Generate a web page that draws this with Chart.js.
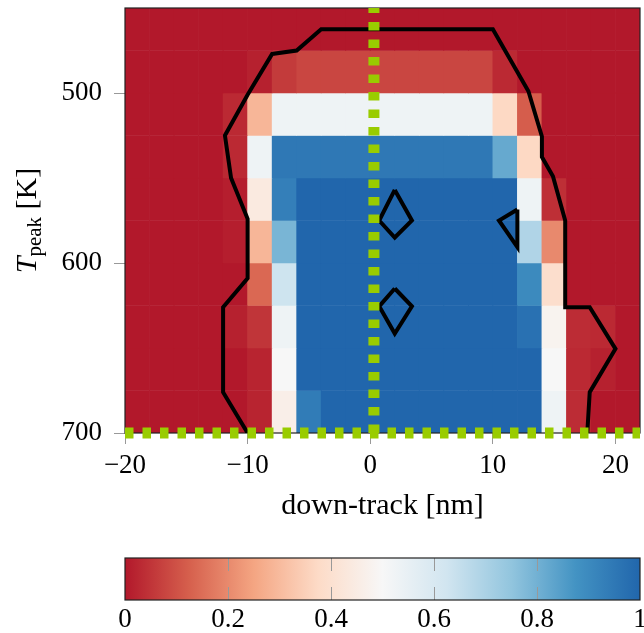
<!DOCTYPE html>
<html>
<head>
<meta charset="utf-8">
<script src="https://cdn.jsdelivr.net/npm/chart.js@4.4.1/dist/chart.umd.min.js"></script>
<style>
  html, body { margin: 0; padding: 0; background: #fff; }
  canvas { display: block; }
</style>
</head>
<body>
<canvas id="mapChart" width="644" height="540"></canvas>
<canvas id="barChart" width="644" height="93"></canvas>
<script>
// Axis ticks
const xTicks = [-20, -10, 0, 10, 20];
const yTicks = [500, 600, 700];
const cbTicks = [0, 0.2, 0.4, 0.6, 0.8, 1];

// Heatmap grid: column left edges (nm), row top edges (K)
const colStarts = [-20, -18, -16, -14, -12, -10, -8, -6, -4, -2, 0, 2, 4, 6, 8, 10, 12, 14, 16, 18, 20];
const rowStarts = [450, 475, 500, 525, 550, 575, 600, 625, 650, 675];
const CELL_W = 2;
const CELL_H = 25;

// Cell values per row (0..1), one per column
const row450 = [0, 0, 0, 0, 0, 0, 0, 0, 0, 0, 0, 0, 0, 0, 0, 0, 0, 0, 0, 0, 0];
const row475 = [0, 0, 0, 0, 0, 0.015, 0.06, 0.08, 0.08, 0.08, 0.08, 0.08, 0.08, 0.08, 0.08, 0.03, 0, 0, 0, 0, 0];
const row500 = [0, 0, 0, 0, 0.03, 0.29, 0.53, 0.53, 0.53, 0.53, 0.53, 0.53, 0.53, 0.53, 0.53, 0.37, 0.12, 0, 0, 0, 0];
const row525 = [0, 0, 0, 0, 0.03, 0.53, 0.95, 0.95, 0.95, 0.95, 0.95, 0.95, 0.95, 0.95, 0.95, 0.82, 0.37, 0, 0, 0, 0];
const row550 = [0, 0, 0, 0, 0.01, 0.44, 0.93, 1, 1, 1, 1, 1, 1, 1, 1, 1, 0.53, 0.04, 0, 0, 0];
const row575 = [0, 0, 0, 0, 0.01, 0.29, 0.79, 1, 1, 1, 1, 1, 1, 1, 1, 1, 0.69, 0.2, 0, 0, 0];
const row600 = [0, 0, 0, 0, 0, 0.14, 0.63, 1, 1, 1, 1, 1, 1, 1, 1, 1, 0.9, 0.39, 0, 0, 0];
const row625 = [0, 0, 0, 0, 0.015, 0.05, 0.53, 1, 1, 1, 1, 1, 1, 1, 1, 1, 0.97, 0.48, 0.035, 0.03, 0];
const row650 = [0, 0, 0, 0, 0, 0.02, 0.5, 1, 1, 1, 1, 1, 1, 1, 1, 1, 1, 0.5, 0.03, 0.015, 0];
const row675 = [0, 0, 0, 0, 0, 0.02, 0.46, 0.94, 1, 1, 1, 1, 1, 1, 1, 1, 1, 0.53, 0.035, 0, 0];
const cellRows = [row450, row475, row500, row525, row550, row575, row600, row625, row650, row675];

// Black contour lines (x in nm, y in K)
const outerX = [-10, -12, -12, -10, -10, -11.35, -11.85, -10, -8, -6, -4, 10, 12.9, 14, 14, 14.9, 15.9, 15.9, 17.9, 20, 17.9, 17.7];
const outerY = [700, 676, 626, 609, 574, 550, 525, 501, 477, 475, 462.5, 462.5, 499, 525.6, 537.6, 549, 575, 626, 626, 650.5, 676, 700];
const diamondAX = [2, 3.4, 2, 0.73, 2];
const diamondAY = [557, 575, 585, 575, 557];
const diamondBX = [2, 3.4, 2, 0.73, 2];
const diamondBY = [615, 625.5, 641.5, 625.5, 615];
const wedgeX = [12, 10.5, 12, 12];
const wedgeY = [568.5, 575, 590.7, 568.5];

// Green dotted guide lines
const guideVX = [0.3, 0.3];
const guideVY = [700, 450];
const guideHX = [-20, 22];
const guideHY = [700, 700];

// RdBu colour map
const RDBU = ['#b2182b', '#d6604d', '#f4a582', '#fddbc7', '#f7f7f7', '#d1e5f0', '#92c5de', '#4393c3', '#2166ac'];
const GREEN = '#99cc00';
const SERIF = '"Liberation Serif", "Times New Roman", serif';
const FONT = { family: SERIF, size: 27 };
const TITLE_FONT = { family: SERIF, size: 30 };

function hexToRgb(h) {
    return [parseInt(h.slice(1, 3), 16), parseInt(h.slice(3, 5), 16), parseInt(h.slice(5, 7), 16)];
}

function cmap(v) {
    const t = Math.min(Math.max(v, 0), 1) * (RDBU.length - 1);
    const i = Math.min(Math.floor(t), RDBU.length - 2);
    const f = t - i;
    const a = hexToRgb(RDBU[i]);
    const b = hexToRgb(RDBU[i + 1]);
    const c = a.map((ch, k) => Math.round(ch + (b[k] - ch) * f));
    return `rgb(${c[0]},${c[1]},${c[2]})`;
}

const fmt = v => String(v).replace('-', '\u2212');
const pts = (xs, ys) => xs.map((x, i) => ({ x: x, y: ys[i] }));

function contour(xs, ys) {
    return {
        type: 'line',
        data: pts(xs, ys),
        borderColor: '#000',
        borderWidth: 4,
        borderJoinStyle: 'miter',
        pointRadius: 0,
        fill: false,
        tension: 0,
        order: 2
    };
}

function guide(xs, ys, clip) {
    return {
        type: 'line',
        data: pts(xs, ys),
        borderColor: GREEN,
        borderWidth: 11,
        borderDash: [8.5, 9],
        borderCapStyle: 'butt',
        pointRadius: 0,
        fill: false,
        clip: clip,
        order: 1
    };
}

// one floating-bar dataset per temperature row
const heatSets = cellRows.map((vals, r) => ({
    type: 'bar',
    data: colStarts.map(x0 => ({ x: x0 + CELL_W / 2, y: [rowStarts[r], rowStarts[r] + CELL_H] })),
    backgroundColor: vals.map(cmap),
    borderWidth: 0,
    grouped: false,
    barPercentage: 1,
    categoryPercentage: 1,
    order: 3
}));

// frame around the plot, drawn right after the heatmap
const framePlugin = {
    id: 'frame',
    afterDatasetDraw(chart, args) {
        if (args.index !== 0) return;
        const { ctx, chartArea: a } = chart;
        ctx.save();
        ctx.strokeStyle = '#222';
        ctx.lineWidth = 1.2;
        ctx.strokeRect(a.left, a.top, a.right - a.left, a.bottom - a.top);
        ctx.restore();
    }
};

// y title with subscript: T_peak [K]
const yTitlePlugin = {
    id: 'yTitle',
    afterDraw(chart) {
        const { ctx, chartArea: a } = chart;
        const parts = [
            { text: 'T', font: `italic 30px ${SERIF}`, dy: 0 },
            { text: 'peak', font: `21px ${SERIF}`, dy: 5 },
            { text: ' [K]', font: `30px ${SERIF}`, dy: 0 }
        ];
        ctx.save();
        let total = 0;
        parts.forEach(p => { ctx.font = p.font; p.w = ctx.measureText(p.text).width; total += p.w; });
        ctx.translate(36, (a.top + a.bottom) / 2);
        ctx.rotate(-Math.PI / 2);
        ctx.fillStyle = '#000';
        ctx.textBaseline = 'alphabetic';
        let u = -total / 2;
        parts.forEach(p => {
            ctx.font = p.font;
            ctx.fillText(p.text, u, p.dy);
            u += p.w;
        });
        ctx.restore();
    }
};

new Chart(document.getElementById('mapChart'), {
    type: 'bar',
    data: {
        datasets: [
            ...heatSets,
            contour(outerX, outerY),
            contour(diamondAX, diamondAY),
            contour(diamondBX, diamondBY),
            contour(wedgeX, wedgeY),
            guide(guideVX, guideVY, 0),
            guide(guideHX, guideHY, false)
        ]
    },
    options: {
        responsive: false,
        animation: false,
        layout: { padding: { top: 8, right: 4, left: 0, bottom: 0 } },
        plugins: { legend: { display: false }, tooltip: { enabled: false } },
        scales: {
            x: {
                type: 'linear',
                min: -20,
                max: 22,
                offset: false,
                grid: { drawOnChartArea: false, tickLength: 11, tickColor: '#999', offset: false },
                border: { display: false },
                afterBuildTicks: s => { s.ticks = xTicks.map(v => ({ value: v })); },
                afterFit: s => { s.height = 107; s.paddingLeft = 0; s.paddingRight = 0; },
                ticks: { font: FONT, color: '#000', padding: 6, maxRotation: 0, autoSkip: false, callback: v => fmt(v) },
                title: { display: true, text: 'down-track [nm]', font: TITLE_FONT, color: '#000', padding: { top: 0, bottom: 16 } }
            },
            y: {
                type: 'linear',
                reverse: true,
                min: 450,
                max: 700,
                grid: { drawOnChartArea: false, tickLength: 11, tickColor: '#999' },
                border: { display: false },
                afterBuildTicks: s => { s.ticks = yTicks.map(v => ({ value: v })); },
                afterFit: s => { s.width = 125; s.paddingTop = 0; s.paddingBottom = 0; },
                ticks: { font: FONT, color: '#000', padding: 12, callback: v => fmt(v) }
            }
        }
    },
    plugins: [framePlugin, yTitlePlugin]
});

// colour bar: gradient from the same map, with inner tick marks
const colorBarPlugin = {
    id: 'colorBar',
    afterDraw(chart) {
        const { ctx, chartArea: a, scales } = chart;
        const grad = ctx.createLinearGradient(a.left, 0, a.right, 0);
        RDBU.forEach((c, i) => grad.addColorStop(i / (RDBU.length - 1), c));
        ctx.save();
        ctx.fillStyle = grad;
        ctx.fillRect(a.left, a.top, a.right - a.left, a.bottom - a.top);
        ctx.strokeStyle = '#999';
        ctx.lineWidth = 1;
        cbTicks.slice(1, -1).forEach(v => {
            const px = Math.round(scales.x.getPixelForValue(v)) + 0.5;
            ctx.beginPath();
            ctx.moveTo(px, a.top); ctx.lineTo(px, a.top + 13);
            ctx.moveTo(px, a.bottom - 13); ctx.lineTo(px, a.bottom);
            ctx.stroke();
        });
        ctx.strokeStyle = '#222';
        ctx.lineWidth = 1.2;
        ctx.strokeRect(a.left, a.top, a.right - a.left, a.bottom - a.top);
        ctx.restore();
    }
};

new Chart(document.getElementById('barChart'), {
    type: 'line',
    data: { datasets: [] },
    options: {
        responsive: false,
        animation: false,
        layout: { padding: { top: 18, right: 4, left: 125, bottom: 0 } },
        plugins: { legend: { display: false }, tooltip: { enabled: false } },
        scales: {
            x: {
                type: 'linear',
                min: 0,
                max: 1,
                grid: { display: false, drawTicks: false },
                border: { display: false },
                afterBuildTicks: s => { s.ticks = cbTicks.map(v => ({ value: v })); },
                afterFit: s => { s.height = 33; s.paddingLeft = 0; s.paddingRight = 0; },
                ticks: { font: FONT, color: '#000', padding: 4, maxRotation: 0, autoSkip: false, callback: v => String(v) }
            },
            y: { display: false }
        }
    },
    plugins: [colorBarPlugin]
});
</script>
</body>
</html>
